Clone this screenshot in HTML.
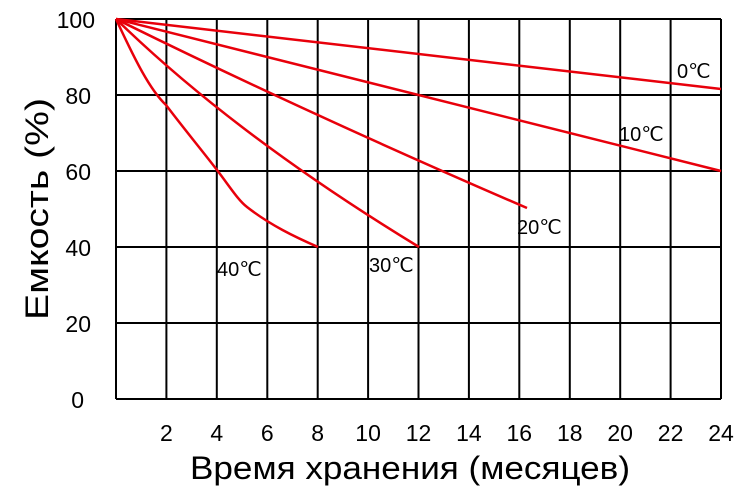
<!DOCTYPE html>
<html><head><meta charset="utf-8"><style>
html,body{margin:0;padding:0;background:#fff;}
</style></head><body>
<svg width="750" height="498" xmlns="http://www.w3.org/2000/svg" font-family="Liberation Sans, Arial, sans-serif">
<rect width="750" height="498" fill="#fff"/>
<g stroke="#000" stroke-width="2">
<line x1="116" y1="19" x2="721" y2="19"/>
<line x1="116" y1="95" x2="721" y2="95"/>
<line x1="116" y1="171" x2="721" y2="171"/>
<line x1="116" y1="247" x2="721" y2="247"/>
<line x1="116" y1="323" x2="721" y2="323"/>
<line x1="116" y1="399" x2="721" y2="399"/>
<line x1="116" y1="19" x2="116" y2="399"/>
<line x1="166.4" y1="19" x2="166.4" y2="399"/>
<line x1="216.8" y1="19" x2="216.8" y2="399"/>
<line x1="267.3" y1="19" x2="267.3" y2="399"/>
<line x1="317.7" y1="19" x2="317.7" y2="399"/>
<line x1="368.1" y1="19" x2="368.1" y2="399"/>
<line x1="418.5" y1="19" x2="418.5" y2="399"/>
<line x1="468.9" y1="19" x2="468.9" y2="399"/>
<line x1="519.3" y1="19" x2="519.3" y2="399"/>
<line x1="569.8" y1="19" x2="569.8" y2="399"/>
<line x1="620.2" y1="19" x2="620.2" y2="399"/>
<line x1="670.6" y1="19" x2="670.6" y2="399"/>
<line x1="721" y1="19" x2="721" y2="399"/>
</g>
<g stroke="#e8000b" stroke-width="2.5" fill="none">
<path d="M116 19 L721 89"/>
<path d="M116 19 L721 171"/>
<path d="M116 19 Q300 110 527 208"/>
<path d="M116 19 Q235 135 419 247"/>
<path d="M116 19 C135 60 150 90 166 105 C185 130 200 148 217 170 C230 187 238 200 247 207 C270 225 295 237 318 247"/>
</g>
<g font-size="20" fill="#000">
<text x="677" y="78">0℃</text>
<text x="619" y="141">10℃</text>
<text x="517" y="234">20℃</text>
<text x="369" y="272">30℃</text>
<text x="217" y="276">40℃</text>
</g>
<g font-size="23" fill="#000" text-anchor="end">
<text x="95" y="28">100</text>
<text x="91" y="104">80</text>
<text x="91" y="180">60</text>
<text x="91" y="256">40</text>
<text x="91" y="332">20</text>
<text x="84" y="408">0</text>
</g>
<g font-size="23" fill="#000" text-anchor="middle">
<text x="166.4" y="441">2</text>
<text x="216.8" y="441">4</text>
<text x="267.3" y="441">6</text>
<text x="317.7" y="441">8</text>
<text x="368.1" y="441">10</text>
<text x="418.5" y="441">12</text>
<text x="468.9" y="441">14</text>
<text x="519.3" y="441">16</text>
<text x="569.8" y="441">18</text>
<text x="620.2" y="441">20</text>
<text x="670.6" y="441">22</text>
<text x="721" y="441">24</text>
</g>
<text x="190" y="479" font-size="32" textLength="440" lengthAdjust="spacingAndGlyphs" fill="#000">Время хранения (месяцев)</text>
<text transform="translate(48,320) rotate(-90)" font-size="32" textLength="222" lengthAdjust="spacingAndGlyphs" fill="#000">Емкость (%)</text>
</svg>
</body></html>
